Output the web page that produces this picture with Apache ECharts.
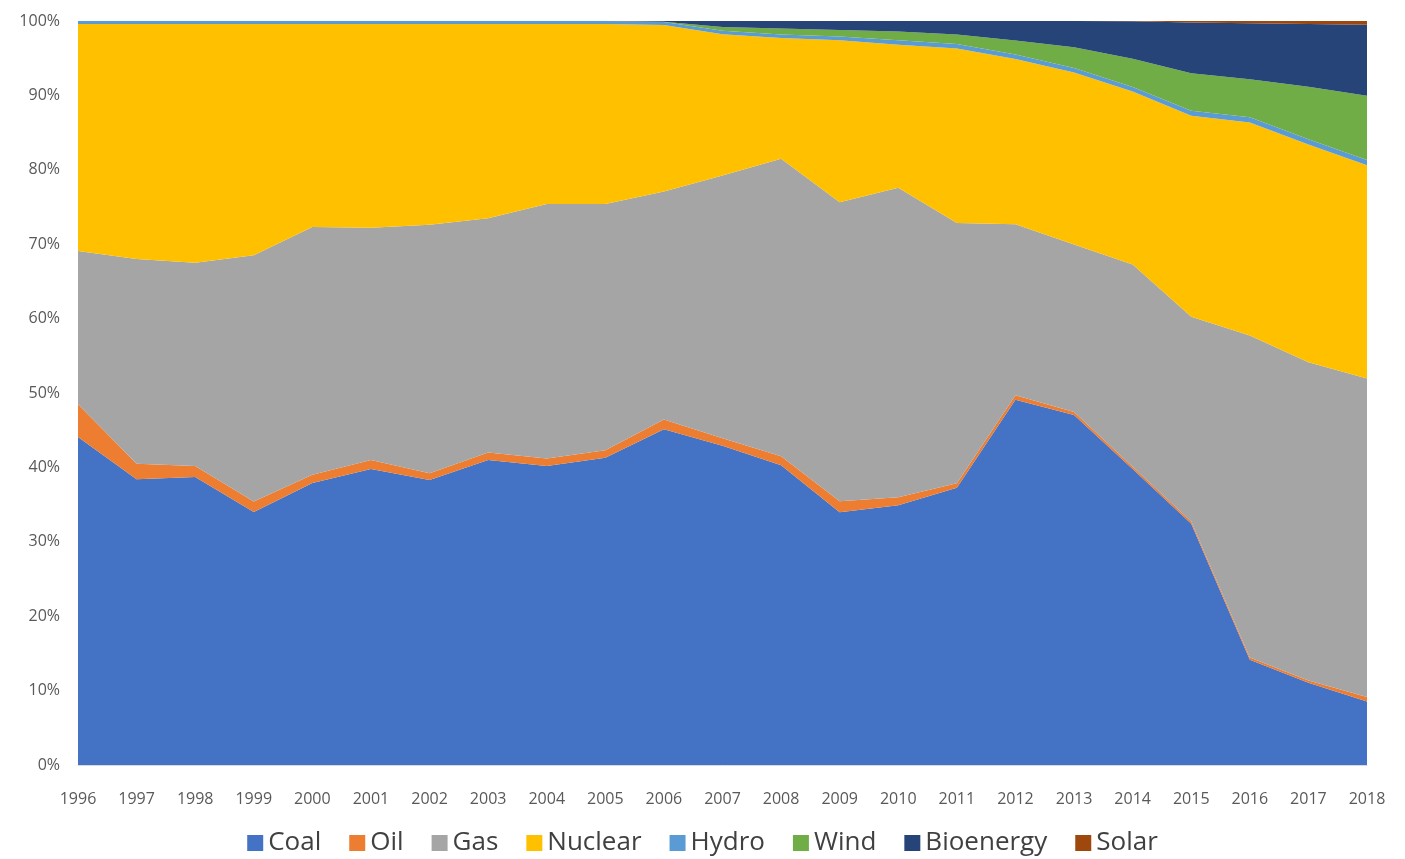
<!DOCTYPE html>
<html>
<head>
<meta charset="utf-8">
<script src="https://cdn.jsdelivr.net/npm/echarts@6/dist/echarts.min.js"></script>
<style>
  html, body { margin: 0; padding: 0; background: #fff; }
  #chart { width: 1405px; height: 859px; }
</style>
</head>
<body>
<div id="chart"></div>
<script>
// generation mix shares (%)
const years = ["1996","1997","1998","1999","2000","2001","2002","2003","2004","2005","2006","2007","2008","2009","2010","2011","2012","2013","2014","2015","2016","2017","2018"];
const coal = [44.1, 38.4, 38.7, 34.0, 37.9, 39.8, 38.3, 41.0, 40.2, 41.3, 45.2, 43.0, 40.3, 34.0, 34.9, 37.2, 48.9, 46.8, 39.7, 32.3, 14.1, 11.0, 8.5];
const oil = [4.4, 2.1, 1.5, 1.4, 1.1, 1.2, 0.9, 1.0, 1.0, 1.0, 1.3, 1.0, 1.2, 1.5, 1.1, 0.6, 0.6, 0.4, 0.3, 0.3, 0.3, 0.3, 0.6];
const gas = [20.6, 27.5, 27.3, 33.1, 33.3, 31.2, 33.4, 31.5, 34.2, 33.1, 30.7, 35.4, 40.0, 40.2, 41.6, 34.9, 22.9, 22.4, 27.1, 27.4, 43.1, 42.5, 42.6];
const nuclear = [30.5, 31.6, 32.1, 31.1, 27.3, 27.4, 27.0, 26.1, 24.2, 24.2, 22.4, 19.0, 16.2, 21.8, 19.2, 23.4, 22.1, 23.0, 23.2, 26.9, 28.5, 29.1, 28.5];
const hydro = [0.4, 0.4, 0.4, 0.4, 0.4, 0.4, 0.4, 0.4, 0.4, 0.4, 0.4, 0.5, 0.5, 0.5, 0.6, 0.6, 0.6, 0.6, 0.6, 0.7, 0.7, 0.7, 0.7];
const wind = [0, 0, 0, 0, 0, 0, 0, 0, 0, 0, 0.05, 0.5, 0.8, 0.9, 1.2, 1.3, 1.9, 2.8, 3.8, 5.0, 5.1, 7.0, 8.6];
const bioenergy = [0, 0, 0, 0, 0, 0, 0, 0, 0, 0, 0.1, 0.8, 1.0, 1.2, 1.4, 1.8, 2.6, 3.5, 5.0, 6.8, 7.5, 8.4, 9.5];
const solar = [0, 0, 0, 0, 0, 0, 0, 0, 0, 0, 0, 0, 0, 0, 0, 0, 0, 0, 0.05, 0.2, 0.3, 0.4, 0.5];

const names = ["Coal", "Oil", "Gas", "Nuclear", "Hydro", "Wind", "Bioenergy", "Solar"];
const values = [coal, oil, gas, nuclear, hydro, wind, bioenergy, solar];
const colors = ["#4472C4", "#ED7D31", "#A5A5A5", "#FFC000", "#5B9BD5", "#70AD47", "#264478", "#9E480E"];

// 100% stacked: scale each year so the shares add to 100
const totals = years.map((_, i) => values.reduce((s, arr) => s + arr[i], 0));

const chart = echarts.init(document.getElementById("chart"));

const series = names.map((name, k) => ({
    name: name,
    type: "line",
    stack: "total",
    symbol: "none",
    lineStyle: { width: 0 },
    areaStyle: { color: colors[k], opacity: 1 },
    itemStyle: { color: colors[k] },
    data: values[k].map((v, i) => (v / totals[i]) * 100),
}));

chart.setOption({
    animation: false,
    backgroundColor: "#fff",
    textStyle: { fontFamily: "Open Sans" },
    grid: { left: 78, right: 38, top: 21, bottom: 94 },
    legend: {
        bottom: -2,
        left: "center",
        itemWidth: 16,
        itemHeight: 16,
        itemGap: 28,
        icon: "rect",
        textStyle: { fontSize: 26, color: "#404040", fontFamily: "Open Sans" },
        data: names,
    },
    xAxis: {
        type: "category",
        data: years,
        boundaryGap: false,
        axisLine: { lineStyle: { color: "#D9D9D9" } },
        axisTick: { show: false },
        axisLabel: { color: "#595959", fontSize: 16, margin: 26 },
    },
    yAxis: {
        type: "value",
        min: 0,
        max: 100,
        interval: 10,
        splitLine: { show: false },
        axisLine: { show: false },
        axisTick: { show: false },
        axisLabel: { color: "#595959", fontSize: 16, margin: 18, formatter: "{value}%" },
    },
    series: series,
});
</script>
</body>
</html>
